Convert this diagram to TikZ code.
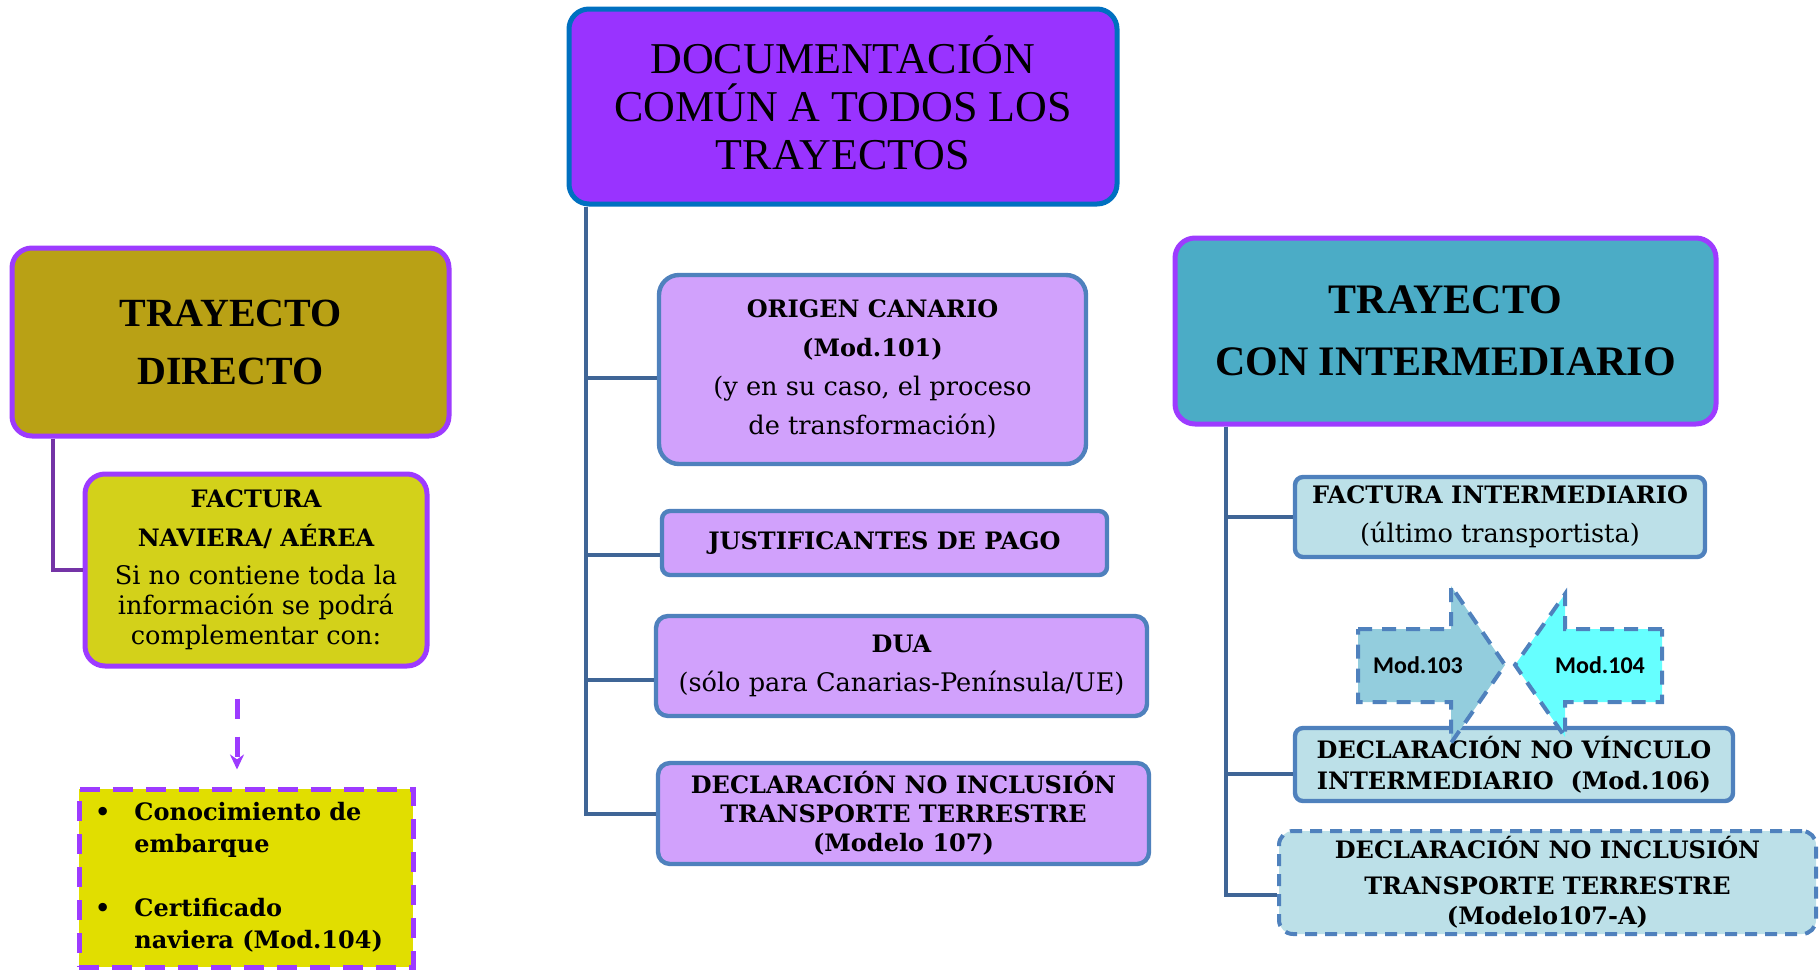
\documentclass[tikz,border=0pt]{standalone}
\usepackage{fontspec}
\setmainfont{DejaVu Serif}
\newfontfamily\headfont{Liberation Serif}
\newfontfamily\modfont{Carlito}
\usetikzlibrary{arrows.meta}

\definecolor{docfill}{HTML}{9933FF}
\definecolor{docline}{HTML}{0070C0}
\definecolor{frameviolet}{HTML}{9D3BFF}
\definecolor{directfill}{HTML}{B9A115}
\definecolor{navfill}{HTML}{D3D11A}
\definecolor{extrafill}{HTML}{E1DE00}
\definecolor{leftlink}{HTML}{7434A6}
\definecolor{lilac}{HTML}{D1A1FC}
\definecolor{boxblue}{HTML}{4F81BD}
\definecolor{linkblue}{HTML}{3F6596}
\definecolor{intermfill}{HTML}{4BACC6}
\definecolor{paleblue}{HTML}{BCE0E8}
\definecolor{modone}{HTML}{93CDDD}
\definecolor{modtwo}{HTML}{66FFFF}

% bold lines inside the boxes
\newcommand{\bt}[1]{{\fontsize{12}{14}\selectfont\bfseries #1}}

\begin{document}
\begin{tikzpicture}[x=0.5pt, y=-0.5pt,
    headbox/.style={draw, line width=2.5pt, rounded corners=10pt, align=center, inner sep=0pt},
    docbox/.style={draw=boxblue, fill=lilac, line width=2.2pt, rounded corners=#1, align=center, inner sep=0pt, font=\fontsize{12}{14.5}\selectfont},
    docbox/.default=4pt,
    link/.style={draw=linkblue, line width=2pt},
    modarrow/.style={draw=boxblue, line width=2pt, dash pattern=on 7pt off 5pt}]
    \useasboundingbox (0,0) rectangle (1820,969);

    % common documents
    \node[headbox, draw=docline, fill=docfill, minimum width=274pt, minimum height=97.5pt,
        font=\headfont\fontsize{22}{24}\selectfont] (doc) at (843,106.5)
        {DOCUMENTACIÓN\\COMÚN A TODOS LOS\\TRAYECTOS\rule[-4pt]{0pt}{4pt}};
    \node[docbox=10pt, minimum width=213.5pt, minimum height=94.5pt, font=\fontsize{12.8}{19.5}\selectfont] (origen) at (872.5,369.5)
        {\bt{ORIGEN CANARIO}\\\bt{(Mod.101)}\\(y en su caso, el proceso\\de transformación)};
    \node[docbox, minimum width=222.5pt, minimum height=32pt] (pago) at (884.5,543) {\bt{JUSTIFICANTES DE PAGO}};
    \node[docbox=6pt, minimum width=245.5pt, minimum height=50pt, font=\fontsize{12.8}{19.5}\selectfont] (dua) at (901.5,666)
        {\bt{DUA}\\(sólo para Canarias-Península/UE)};
    \node[docbox=6pt, minimum width=245.5pt, minimum height=50.5pt, font=\bfseries\fontsize{12}{14.5}\selectfont] (mod107) at (903.5,813.5)
        {DECLARACIÓN NO INCLUSIÓN\\TRANSPORTE TERRESTRE\\(Modelo 107)};

    % direct route
    \node[headbox, draw=frameviolet, fill=directfill, minimum width=218.5pt, minimum height=94pt,
        font=\headfont\bfseries\fontsize{20}{29}\selectfont] (directo) at (230.5,342) {TRAYECTO\\DIRECTO};
    \node[headbox, draw=frameviolet, fill=navfill, minimum width=171pt, minimum height=96pt,
        font=\fontsize{12.8}{15}\selectfont] (naviera) at (256,570)
        {\bt{FACTURA}\\[4.5pt]\bt{NAVIERA/ AÉREA}\\[4pt]Si no contiene toda la\\información se podrá\\complementar con:};
    \node[draw=frameviolet, fill=extrafill, line width=2.5pt, dash pattern=on 10pt off 6.5pt, inner sep=0pt,
        minimum width=167pt, minimum height=89pt, font=\bfseries\fontsize{12}{16}\selectfont] (extra) at (246,878)
        {\begin{tabular}{@{}l@{\hspace{12pt}}l@{\hspace{7pt}}}
            \textbullet & Conocimiento de\\
                        & embarque\\[16pt]
            \textbullet & Certificado\\
                        & naviera (Mod.104)\rule[-3pt]{0pt}{3pt}
        \end{tabular}};

    % route with intermediary
    \node[headbox, draw=frameviolet, fill=intermfill, minimum width=270.5pt, minimum height=93pt,
        font=\headfont\bfseries\fontsize{21}{31}\selectfont] (interm) at (1445.5,331) {TRAYECTO\\CON INTERMEDIARIO};
    \node[docbox, fill=paleblue, minimum width=205pt, minimum height=40pt, font=\fontsize{12.8}{19.5}\selectfont] (factint) at (1500,517)
        {\bt{FACTURA INTERMEDIARIO}\\(último transportista)};
    \node[docbox, fill=paleblue, minimum width=219pt, minimum height=36.5pt, font=\bfseries\fontsize{12}{15.5}\selectfont] (mod106) at (1514,764.5)
        {DECLARACIÓN NO VÍNCULO\\INTERMEDIARIO~~(Mod.106)};
    \node[docbox=7pt, fill=paleblue, line width=2pt, dash pattern=on 6pt off 4pt, minimum width=268.5pt, minimum height=51.5pt,
        font=\bfseries\fontsize{12}{15}\selectfont] (mod107a) at (1547.5,882.5)
        {DECLARACIÓN NO INCLUSIÓN\\[3pt]TRANSPORTE TERRESTRE\\(Modelo107-A)};

    % the two models
    \draw[modarrow, fill=modone] (1358,629) -- (1451,629) -- (1451,586) -- (1505,665) -- (1451,743) -- (1451,702) -- (1358,702) -- cycle;
    \draw[modarrow, fill=modtwo] (1662,629) -- (1565,629) -- (1565,594) -- (1515,665) -- (1565,737) -- (1565,702) -- (1662,702) -- cycle;
    \node[font=\modfont\bfseries\fontsize{12}{14}\selectfont] (m103) at (1418,665) {Mod.103};
    \node[font=\modfont\bfseries\fontsize{12}{14}\selectfont] (m104) at (1600,665) {Mod.104};

    % connectors
    \draw[link] ([xshift=9.5pt]doc.south west) |- ([yshift=-4.25pt]origen.west);
    \draw[link] ([xshift=9.5pt]doc.south west) |- ([yshift=-6pt]pago.west);
    \draw[link] ([xshift=9.5pt]doc.south west) |- ([yshift=-7pt]dua.west);
    \draw[link] ([xshift=9.5pt]doc.south west) |- (mod107.west);
    \draw[link] ([xshift=26.5pt]interm.south west) |- (factint.west);
    \draw[link] ([xshift=26.5pt]interm.south west) |- ([yshift=-4.75pt]mod106.west);
    \draw[link] ([xshift=26.5pt]interm.south west) |- ([yshift=-6.25pt]mod107a.west);
    \draw[draw=leftlink, line width=2pt] ([xshift=21.5pt]directo.south west) |- (naviera.west);
    \draw[draw=frameviolet, line width=2.5pt, dash pattern=on 10pt off 9pt, -{Stealth[length=7.5pt, width=7pt]}]
        ([xshift=-9.5pt, yshift=-15pt]naviera.south) -- ([xshift=-4.5pt, yshift=8.5pt]extra.north);
\end{tikzpicture}
\end{document}
